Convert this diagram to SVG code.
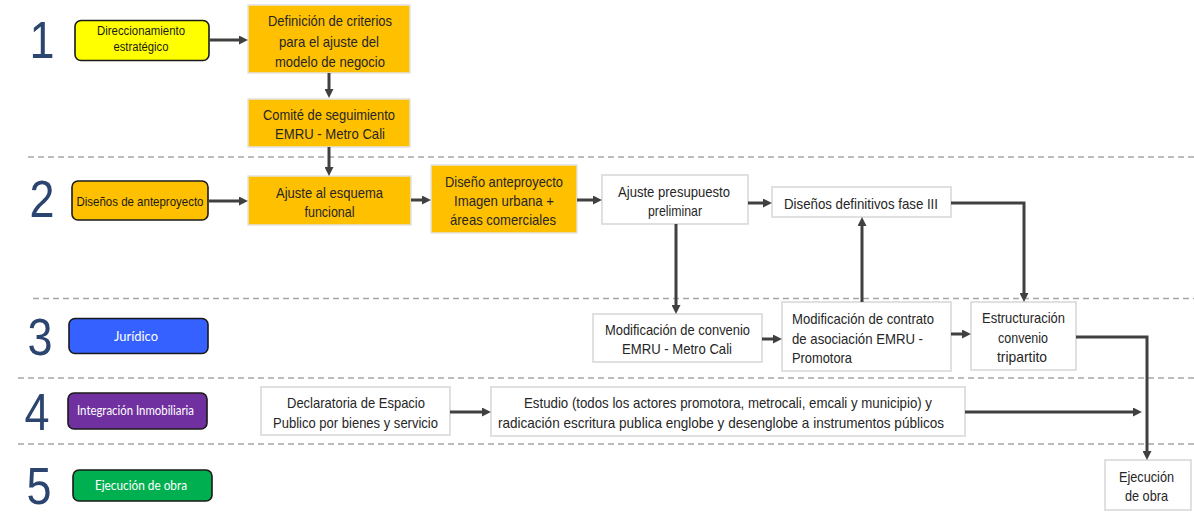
<svg xmlns="http://www.w3.org/2000/svg" width="1194" height="521" viewBox="0 0 1194 521">
<style>
.bg{fill:#ffffff}
.lane{stroke:#a6a6a6;stroke-width:1.5;stroke-dasharray:6 4;fill:none}
.num{font-family:"Liberation Sans",Arial,sans-serif;font-size:52px;fill:#2b4570;text-anchor:middle;dominant-baseline:central}
.tag{stroke:#1a1a1a;stroke-width:1.6}
.tagt{font-family:"Liberation Sans Narrow","Liberation Sans",Arial,sans-serif;font-size:12px;fill:#1a1a1a;text-anchor:middle;dominant-baseline:central}
.tagw{font-family:Lato,"Open Sans","Liberation Sans",sans-serif;font-size:12.5px;fill:#ffffff;text-anchor:middle;dominant-baseline:central}
.org{fill:#ffc000;stroke:#e3e3e3;stroke-width:1.5}
.wht{fill:#ffffff;stroke:#d6d6d6;stroke-width:1.5}
.t{font-family:"Liberation Sans Narrow","Liberation Sans",Arial,sans-serif;font-size:15px;fill:#262626;text-anchor:middle;dominant-baseline:central}
.tl{text-anchor:start}
.conn path{fill:none;stroke:#404040;stroke-width:3;marker-end:url(#ah)}
</style>
<defs>
<marker id="ah" viewBox="0 0 10 10" refX="4.5" refY="5" markerWidth="9" markerHeight="9" markerUnits="userSpaceOnUse" orient="auto">
<path d="M0,0 L10,5 L0,10 z" fill="#404040"/>
</marker>
</defs>
<rect class="bg" x="0" y="0" width="1194" height="521"/>

<g id="lanes">
<line class="lane" x1="28" y1="157" x2="1194" y2="157"/>
<line class="lane" x1="33" y1="298.5" x2="1194" y2="298.5"/>
<line class="lane" x1="18" y1="378" x2="1194" y2="378"/>
<line class="lane" x1="18" y1="444" x2="1194" y2="444"/>
</g>

<g id="numbers">
<text class="num" x="42" y="40" textLength="25" lengthAdjust="spacingAndGlyphs">1</text>
<text class="num" x="42" y="199" textLength="25" lengthAdjust="spacingAndGlyphs">2</text>
<text class="num" x="40" y="337" textLength="25" lengthAdjust="spacingAndGlyphs">3</text>
<text class="num" x="37" y="412" textLength="25" lengthAdjust="spacingAndGlyphs">4</text>
<text class="num" x="39" y="486" textLength="25" lengthAdjust="spacingAndGlyphs">5</text>
</g>

<g id="lane1">
<rect class="tag" x="75" y="20.5" width="134" height="40" rx="6" fill="#ffff00"/>
<text class="tagt" x="141" y="31" textLength="88" lengthAdjust="spacingAndGlyphs">Direccionamiento</text>
<text class="tagt" x="141" y="47" textLength="55" lengthAdjust="spacingAndGlyphs">estratégico</text>
</g>
<g id="lane2">
<rect class="tag" x="72" y="181" width="136" height="39" rx="6" fill="#ffc000"/>
<text class="tagt" x="140" y="201" textLength="127" lengthAdjust="spacingAndGlyphs" style="font-size:13px">Diseños de anteproyecto</text>
</g>
<g id="lane3">
<rect class="tag" x="69" y="318.5" width="139" height="35" rx="6" fill="#3461ff"/>
<text class="tagw" x="136" y="336" textLength="44" lengthAdjust="spacingAndGlyphs">Jurídico</text>
</g>
<g id="lane4">
<rect class="tag" x="68" y="393" width="139" height="36" rx="6" fill="#7030a0"/>
<text class="tagw" x="135.5" y="410" textLength="117" lengthAdjust="spacingAndGlyphs">Integración Inmobiliaria</text>
</g>
<g id="lane5">
<rect class="tag" x="73" y="470" width="139" height="31" rx="6" fill="#00b050"/>
<text class="tagw" x="141" y="485" textLength="92" lengthAdjust="spacingAndGlyphs">Ejecución de obra</text>
</g>

<g id="definicion">
<rect class="org" x="248" y="5" width="162" height="68"/>
<text class="t" x="330" y="20" textLength="124" lengthAdjust="spacingAndGlyphs">Definición de criterios</text>
<text class="t" x="329" y="41" textLength="100" lengthAdjust="spacingAndGlyphs">para el ajuste del</text>
<text class="t" x="330" y="61" textLength="110" lengthAdjust="spacingAndGlyphs">modelo de negocio</text>
</g>
<g id="comite">
<rect class="org" x="248" y="99" width="162" height="48"/>
<text class="t" x="329" y="114" textLength="132" lengthAdjust="spacingAndGlyphs">Comité de seguimiento</text>
<text class="t" x="330" y="133" textLength="110" lengthAdjust="spacingAndGlyphs">EMRU - Metro Cali</text>
</g>
<g id="ajuste-esquema">
<rect class="org" x="248" y="176" width="163" height="49"/>
<text class="t" x="329.5" y="192" textLength="107" lengthAdjust="spacingAndGlyphs">Ajuste al esquema</text>
<text class="t" x="329.5" y="211" textLength="50" lengthAdjust="spacingAndGlyphs">funcional</text>
</g>
<g id="diseno-anteproyecto">
<rect class="org" x="431" y="165" width="146" height="68"/>
<text class="t" x="504" y="181" textLength="118" lengthAdjust="spacingAndGlyphs">Diseño anteproyecto</text>
<text class="t" x="504" y="200" textLength="100" lengthAdjust="spacingAndGlyphs">Imagen urbana +</text>
<text class="t" x="503" y="219" textLength="106" lengthAdjust="spacingAndGlyphs">áreas comerciales</text>
</g>
<g id="ajuste-presupuesto">
<rect class="wht" x="602" y="175" width="146" height="49"/>
<text class="t" x="674" y="191" textLength="112" lengthAdjust="spacingAndGlyphs">Ajuste presupuesto</text>
<text class="t" x="675" y="210" textLength="54" lengthAdjust="spacingAndGlyphs">preliminar</text>
</g>
<g id="disenos-definitivos">
<rect class="wht" x="772" y="187" width="179" height="30"/>
<text class="t" x="861" y="203" textLength="154" lengthAdjust="spacingAndGlyphs">Diseños definitivos fase III</text>
</g>
<g id="mod-convenio">
<rect class="wht" x="593" y="314" width="169" height="48"/>
<text class="t" x="677.5" y="329" textLength="145" lengthAdjust="spacingAndGlyphs">Modificación de convenio</text>
<text class="t" x="677" y="348" textLength="110" lengthAdjust="spacingAndGlyphs">EMRU - Metro Cali</text>
</g>
<g id="mod-contrato">
<rect class="wht" x="782" y="302" width="169" height="69"/>
<text class="t tl" x="792" y="318" textLength="142" lengthAdjust="spacingAndGlyphs">Modificación de contrato</text>
<text class="t tl" x="792" y="338" textLength="131" lengthAdjust="spacingAndGlyphs">de asociación EMRU -</text>
<text class="t tl" x="792" y="357" textLength="60" lengthAdjust="spacingAndGlyphs">Promotora</text>
</g>
<g id="estructuracion">
<rect class="wht" x="971" y="302" width="105" height="68"/>
<text class="t" x="1023.5" y="317" textLength="83" lengthAdjust="spacingAndGlyphs">Estructuración</text>
<text class="t" x="1023" y="337" textLength="50" lengthAdjust="spacingAndGlyphs">convenio</text>
<text class="t" x="1022" y="356" textLength="50" lengthAdjust="spacingAndGlyphs">tripartito</text>
</g>
<g id="declaratoria">
<rect class="wht" x="261" y="387" width="189" height="48"/>
<text class="t" x="356" y="402" textLength="138" lengthAdjust="spacingAndGlyphs">Declaratoria de Espacio</text>
<text class="t" x="355.5" y="422" textLength="165" lengthAdjust="spacingAndGlyphs">Publico por bienes y servicio</text>
</g>
<g id="estudio">
<rect class="wht" x="491" y="387" width="474" height="49"/>
<text class="t" x="728" y="402" textLength="408" lengthAdjust="spacingAndGlyphs">Estudio (todos los actores promotora, metrocali, emcali y municipio) y</text>
<text class="t" x="721" y="422" textLength="446" lengthAdjust="spacingAndGlyphs">radicación escritura publica englobe y desenglobe a instrumentos públicos</text>
</g>
<g id="ejecucion">
<rect class="wht" x="1105" y="460" width="86" height="50"/>
<text class="t" x="1146.5" y="476" textLength="55" lengthAdjust="spacingAndGlyphs">Ejecución</text>
<text class="t" x="1146.5" y="495" textLength="43" lengthAdjust="spacingAndGlyphs">de obra</text>
</g>

<g id="connectors" class="conn">
<path d="M209,40 H243"/>
<path d="M329,73 V93"/>
<path d="M329,147 V171"/>
<path d="M208,201 H243"/>
<path d="M411,200 H426"/>
<path d="M577,200 H597"/>
<path d="M748,203 H767"/>
<path d="M951,203 H1024 V297"/>
<path d="M676,224 V309"/>
<path d="M762,339 H777"/>
<path d="M862,302 V222"/>
<path d="M951,334 H966"/>
<path d="M1076,337 H1147 V455"/>
<path d="M450,412 H486"/>
<path d="M965,412 H1137"/>
</g>
</svg>
